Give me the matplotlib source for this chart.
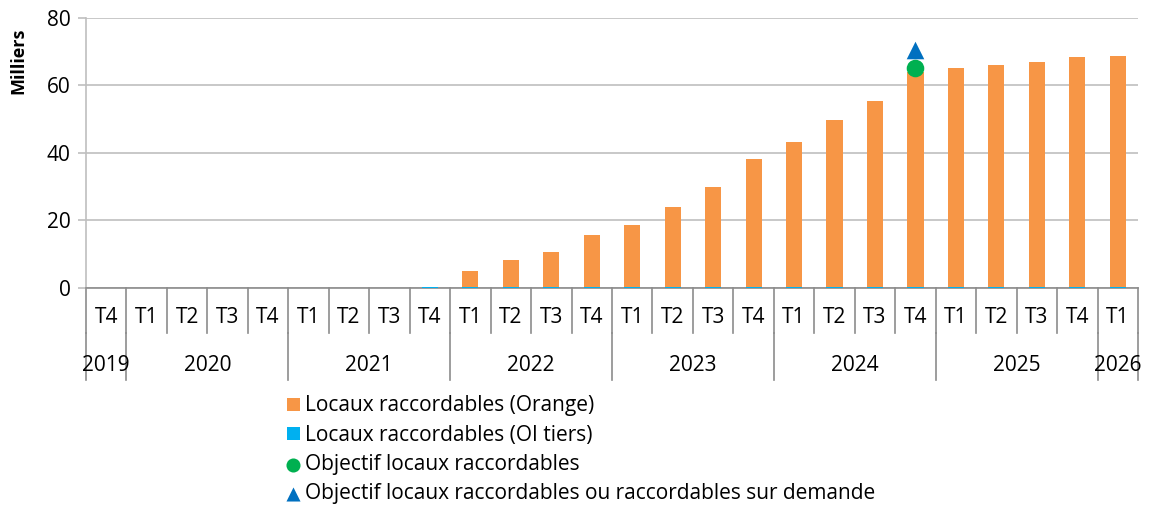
import numpy as np
import matplotlib.pyplot as plt
import matplotlib.transforms as mtransforms

plt.rcParams['font.family'] = ['Open Sans', 'DejaVu Sans']

# données (milliers de locaux)
quarters = ['T4', 'T1', 'T2', 'T3', 'T4', 'T1', 'T2', 'T3', 'T4',
            'T1', 'T2', 'T3', 'T4', 'T1', 'T2', 'T3', 'T4',
            'T1', 'T2', 'T3', 'T4', 'T1', 'T2', 'T3', 'T4', 'T1']
years = [2019, 2020, 2020, 2020, 2020, 2021, 2021, 2021, 2021,
         2022, 2022, 2022, 2022, 2023, 2023, 2023, 2023,
         2024, 2024, 2024, 2024, 2025, 2025, 2025, 2025, 2026]
orange = [0, 0, 0, 0, 0, 0, 0, 0, 0,
          4.7, 8.0, 10.3, 15.4, 18.4, 23.6, 29.6, 37.8,
          42.9, 49.6, 55.2, 63.7, 64.8, 65.8, 66.8, 68.0, 68.4]
oi_tiers = [0, 0, 0, 0, 0, 0, 0, 0, 0.3,
            0.3, 0.3, 0.3, 0.3, 0.3, 0.3, 0.3, 0.3,
            0.3, 0.3, 0.3, 0.3, 0.3, 0.3, 0.3, 0.3, 0.3]
obj_period = (2024, 'T4')
objectif = [65.2]
objectif_demande = [70.5]

x = np.arange(len(quarters))
obj_x = [i for i in x if years[i] == obj_period[0] and quarters[i] == obj_period[1]]

fig = plt.figure(figsize=(11.53, 5.07), dpi=100)
ax = fig.add_axes([0.0746, 0.432, 0.9124, 0.5325])

b_oi = ax.bar(x, oi_tiers, width=0.4, color='#00B0F0', zorder=3)
b_or = ax.bar(x, orange, width=0.4, bottom=oi_tiers, color='#F79646', zorder=3)
s1 = ax.scatter(obj_x, objectif, marker='o', s=160, color='#00B050', zorder=4, linewidths=0)
s2 = ax.scatter(obj_x, objectif_demande, marker='^', s=160, color='#0070C0', zorder=4, linewidths=0)

ax.set_xlim(-0.5, len(x) - 0.5)
ax.set_ylim(0, 80)
ax.set_yticks([0, 20, 40, 60, 80])
ax.tick_params(axis='y', labelsize=15, length=6, color='#BFBFBF', width=1.2, pad=5)
ax.grid(axis='y', color='#BFBFBF', linewidth=1.2, zorder=0)
ax.set_xticks([])
for s in ['top', 'right']:
    ax.spines[s].set_visible(False)
ax.spines['left'].set_color('#BFBFBF')
ax.spines['left'].set_linewidth(1.2)
ax.spines['bottom'].set_color('#8C8C8C')
ax.spines['bottom'].set_linewidth(1.2)
ax.set_ylabel('Milliers', fontsize=13, fontweight='bold')
ax.yaxis.set_label_coords(-0.056, 0.84)

# axe des catégories à deux niveaux
trans = mtransforms.blended_transform_factory(ax.transData, ax.transAxes)
for i in range(len(x) + 1):
    ax.plot([i - 0.5, i - 0.5], [0, -0.167], color='#8C8C8C', lw=1.2,
            transform=trans, clip_on=False)
for i, q in enumerate(quarters):
    ax.text(i, -0.111, q, ha='center', va='center', fontsize=15, transform=trans)

bounds = [0] + [i for i in range(1, len(years)) if years[i] != years[i - 1]] + [len(years)]
for b in bounds:
    ax.plot([b - 0.5, b - 0.5], [-0.167, -0.34], color='#8C8C8C', lw=1.2,
            transform=trans, clip_on=False)
for a, b in zip(bounds[:-1], bounds[1:]):
    ax.text((a + b - 1) / 2, -0.289, str(years[a]), ha='center', va='center',
            fontsize=15, transform=trans)

fig.legend([b_or, b_oi, s1, s2],
           ['Locaux raccordables (Orange)', 'Locaux raccordables (OI tiers)',
            'Objectif locaux raccordables',
            'Objectif locaux raccordables ou raccordables sur demande'],
           loc='upper left', bbox_to_anchor=(0.249, 0.22), frameon=False,
           fontsize=15, handlelength=0.6, handleheight=0.6, handletextpad=0.25,
           labelspacing=0.4, borderpad=0, borderaxespad=0, markerscale=0.8)

fig.savefig('out.png', dpi=100)
